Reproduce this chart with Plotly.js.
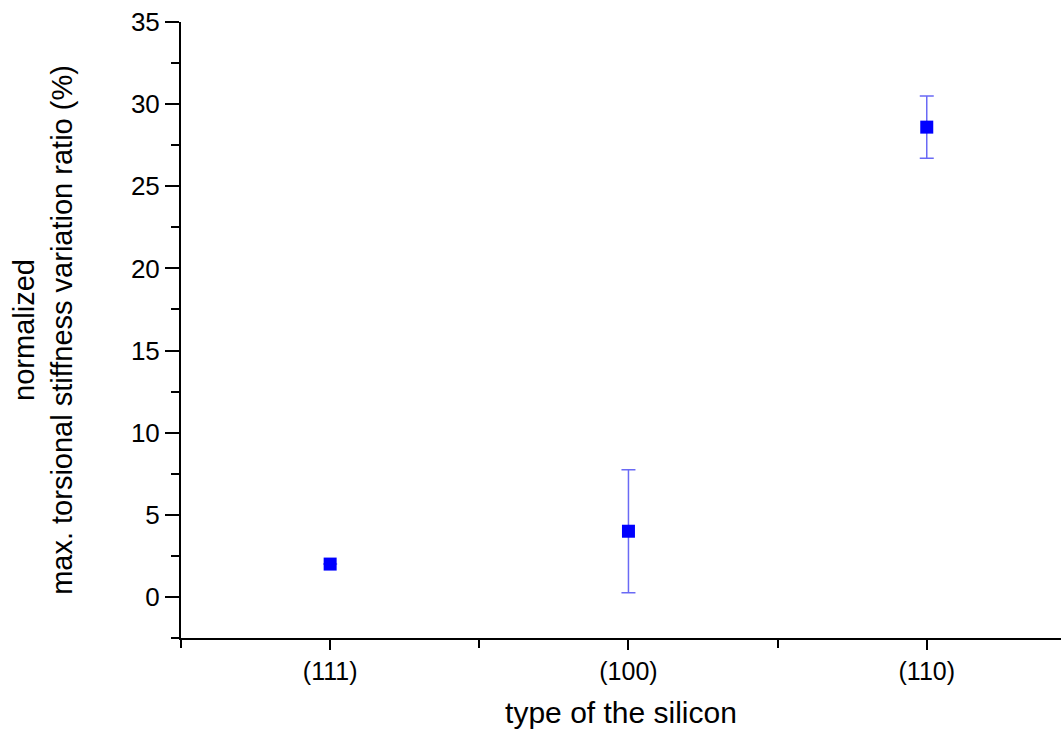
<!DOCTYPE html>
<html>
<head>
<meta charset="utf-8">
<script src="https://cdn.plot.ly/plotly-3.0.1.min.js"></script>
<style>html,body{margin:0;padding:0;background:#fff;}#chart{width:1061px;height:733px;}</style>
</head>
<body>
<div id="chart"></div>
<script>
const categories = ["(111)", "(100)", "(110)"];
const values = [2.0, 4.0, 28.6];
const errors = [0.0, 3.75, 1.9];
const yTickVals = [0, 5, 10, 15, 20, 25, 30, 35];

const xIdx = categories.map((c, i) => i);

const trace = {
  x: xIdx,
  y: values,
  type: 'scatter',
  mode: 'markers',
  marker: {symbol: 'square', size: 13, color: '#0000ff'},
  error_y: {type: 'data', array: errors, visible: true, color: '#6a6af5', thickness: 1.5, width: 7},
  showlegend: false,
  hoverinfo: 'x+y'
};

const FAM = '"Liberation Sans", Arial, sans-serif';

const layout = {
  width: 1061, height: 733,
  margin: {l: 181, r: 0, t: 22, b: 95},
  paper_bgcolor: '#fff', plot_bgcolor: '#fff',
  xaxis: {
    range: [-0.5, 2.45],
    tickvals: xIdx, ticktext: categories,
    ticks: 'outside', ticklen: 10, tickwidth: 2, tickcolor: '#000',
    showline: true, linewidth: 2, linecolor: '#000',
    showgrid: false, zeroline: false,
    tickfont: {family: FAM, size: 25, color: '#000'},
    minor: {tick0: -0.5, dtick: 1, ticks: 'outside', ticklen: 8, tickwidth: 2, tickcolor: '#000', showgrid: false},
    title: {text: 'type of the silicon', font: {family: FAM, size: 30, color: '#000'}, standoff: 18}
  },
  yaxis: {
    range: [-2.5, 35],
    tickvals: yTickVals,
    ticks: 'outside', ticklen: 14, tickwidth: 2, tickcolor: '#000',
    showline: true, linewidth: 2, linecolor: '#000',
    showgrid: false, zeroline: false,
    tickfont: {family: FAM, size: 26, color: '#000'},
    minor: {tick0: 0, dtick: 2.5, ticks: 'outside', ticklen: 8, tickwidth: 2, tickcolor: '#000', showgrid: false},
    title: {text: 'normalized<br>max. torsional stiffness variation ratio (%)', font: {family: FAM, size: 29, color: '#000'}, standoff: 50}
  }
};

Plotly.newPlot('chart', [trace], layout, {displayModeBar: false, staticPlot: true});
</script>
</body>
</html>
